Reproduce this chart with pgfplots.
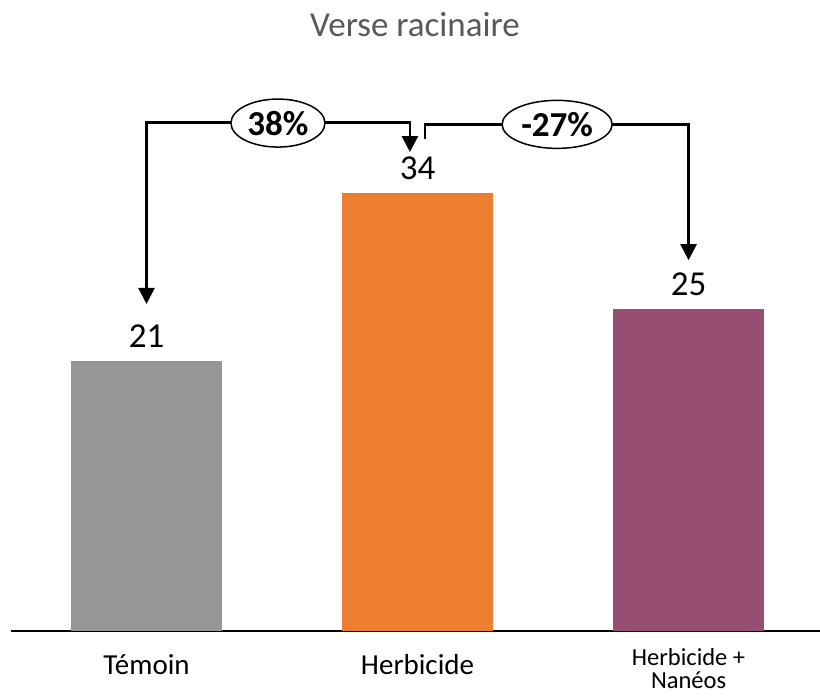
\documentclass[border=0pt]{standalone}
\usepackage{pgfplots}
\pgfplotsset{compat=1.18}
\usepackage{fontspec}
\setmainfont{Carlito}
\usetikzlibrary{arrows.meta,shapes.geometric}
\definecolor{cgray}{HTML}{969696}
\definecolor{corange}{HTML}{ED7D31}
\definecolor{cpurple}{RGB}{150,79,114}
\definecolor{titlegray}{HTML}{595959}
\newcommand{\thirdlabel}{\raisebox{9pt}{\fontsize{24.5}{23}\selectfont\vtop{\baselineskip=23pt\lineskiplimit=-10pt\halign{\hfil##\hfil\cr Herbicide +\cr Nanéos\cr}}}}
\begin{document}
\begin{tikzpicture}[x=1pt,y=1pt]
\path[use as bounding box] (0,0) rectangle (820,698);
\node[anchor=base, text=titlegray, font=\fontsize{35}{42}\selectfont, inner sep=0pt] at (415,661) {Verse racinaire};
\begin{axis}[
  at={(11pt,67pt)}, anchor=south west,
  scale only axis, width=809pt, height=515pt,
  xmin=-0.5, xmax=2.485, ymin=0, ymax=40,
  axis x line*=bottom, axis y line=none,
  x axis line style={line width=1.5pt, -},
  ybar, bar width=151pt, bar shift=0pt,
  xtick={0,1,2},
  xticklabels={Témoin, Herbicide, {\thirdlabel}},
  major tick length=0pt,
  xticklabel style={anchor=base, yshift=-44pt, inner sep=0pt, font=\fontsize{29}{34}\selectfont},
  ytick=\empty,
  clip=false,
  nodes near coords={\fontsize{35}{42}\selectfont\pgfmathprintnumber[assume math mode=true]{\pgfplotspointmeta}},
  nodes near coords style={text=black, anchor=south, inner sep=0pt, yshift=13pt},
]
\addplot[fill=cgray, draw=none] coordinates {(0,21)};
\addplot[fill=corange, draw=none] coordinates {(1,34)};
\addplot[fill=cpurple, draw=none] coordinates {(2,25)};
% annotation brackets
\draw[line width=2.5pt, {Triangle[width=16pt,length=16pt]}-{Triangle[width=16pt,length=16pt]}]
  (axis cs:0,25.4) -- (axis cs:0,39.5) -- (axis cs:0.972,39.5) -- (axis cs:0.972,37.2);
\draw[line width=2.5pt, -{Triangle[width=16pt,length=16pt]}]
  (axis cs:1.028,38.2) -- (axis cs:1.028,39.35) -- (axis cs:2,39.35) -- (axis cs:2,28.8);
\node[draw, ellipse, fill=white, line width=1.5pt, minimum width=94pt, minimum height=48pt, inner sep=0pt,
  font=\bfseries\fontsize{35}{40}\selectfont] at (axis cs:0.485,39.45) {38\%};
\node[draw, ellipse, fill=white, line width=1.5pt, minimum width=110pt, minimum height=48pt, inner sep=0pt,
  font=\bfseries\fontsize{35}{40}\selectfont] at (axis cs:1.515,39.35) {-27\%};
\end{axis}
\end{tikzpicture}
\end{document}
